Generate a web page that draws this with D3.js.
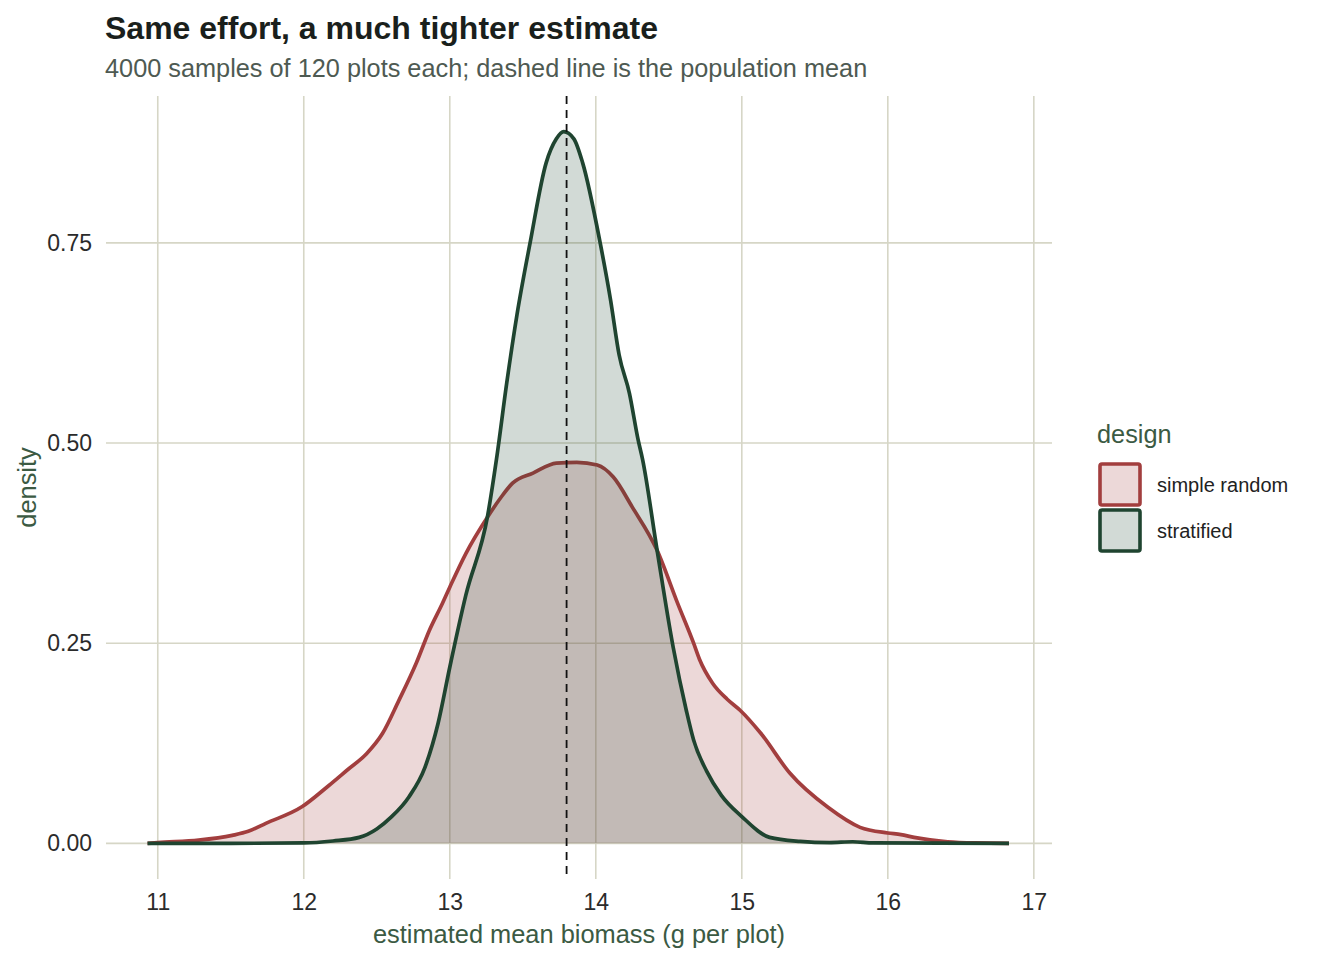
<!DOCTYPE html>
<meta charset="utf-8">
<style>
body { margin: 0; background: #fff; }
text { font-family: "Liberation Sans", Arial, sans-serif; }
.grid line { stroke: #d6d6c6; stroke-width: 1.6; }
</style>
<svg width="1344" height="960"></svg>
<script src="https://cdn.jsdelivr.net/npm/d3@7/dist/d3.min.js"></script>
<script>

// estimated densities
var designs = ["simple random", "stratified"];
var strokeColors = ["#a23e3e", "#1f4430"];

var srsX = [10.93, 11.0, 11.28, 11.51, 11.62, 11.74, 11.99, 12.17, 12.3, 12.43, 12.54, 12.65, 12.77, 12.86, 12.95, 13.0, 13.11, 13.26, 13.35, 13.43, 13.57, 13.73, 13.87, 14.01, 14.12, 14.25, 14.42, 14.56, 14.67, 14.71, 14.8, 14.9, 14.99, 15.13, 15.33, 15.59, 15.81, 16.0, 16.09, 16.18, 16.41, 16.6, 16.83];
var srsY = [0, 0.001, 0.004, 0.01, 0.015, 0.025, 0.046, 0.072, 0.092, 0.112, 0.1375, 0.178, 0.225, 0.266, 0.3, 0.32, 0.362, 0.408, 0.432, 0.45, 0.4625, 0.475, 0.476, 0.4725, 0.4575, 0.42, 0.366, 0.3, 0.25, 0.23, 0.2, 0.18, 0.166, 0.1375, 0.0875, 0.045, 0.02, 0.013, 0.011, 0.0075, 0.002, 0.0005, 0];

var strX = [10.93, 11.5, 12.0, 12.2, 12.38, 12.5, 12.6, 12.72, 12.83, 12.92, 13.0, 13.11, 13.26, 13.32, 13.39, 13.46, 13.55, 13.66, 13.73, 13.78, 13.85, 13.91, 14.03, 14.1, 14.16, 14.23, 14.29, 14.32, 14.42, 14.53, 14.62, 14.67, 14.76, 14.86, 15.0, 15.19, 15.4, 15.6, 15.76, 15.9, 16.83];
var strY = [0, 0, 0.0005, 0.003, 0.0075, 0.018, 0.033, 0.058, 0.095, 0.15, 0.22, 0.31, 0.41, 0.48, 0.575, 0.66, 0.75, 0.85, 0.88, 0.889, 0.88, 0.85, 0.75, 0.68, 0.61, 0.5625, 0.504, 0.48, 0.366, 0.245, 0.166, 0.129, 0.09, 0.06, 0.0335, 0.0075, 0.0025, 0.001, 0.002, 0.0005, 0];

var xTicks = [11, 12, 13, 14, 15, 16, 17];
var yTicks = [0, 0.25, 0.5, 0.75];
var popMean = 13.8;

var svg = d3.select("svg");

var panel = { left: 106, right: 1052, top: 96, bottom: 879 };

var x = d3.scaleLinear()
    .domain([10.6455, 17.1245])
    .range([panel.left, panel.right]);

var y = d3.scaleLinear()
    .domain([-0.0445, 0.9335])
    .range([panel.bottom, panel.top]);

// grid
var grid = svg.append("g").attr("class", "grid");
grid.selectAll(".gy").data(yTicks).enter().append("line")
    .attr("x1", panel.left).attr("x2", panel.right)
    .attr("y1", function(d) { return y(d); })
    .attr("y2", function(d) { return y(d); });
grid.selectAll(".gx").data(xTicks).enter().append("line")
    .attr("y1", panel.top).attr("y2", panel.bottom)
    .attr("x1", function(d) { return x(d); })
    .attr("x2", function(d) { return x(d); });

// axes (labels only)
var xAxis = svg.append("g")
    .attr("transform", "translate(0," + (panel.bottom + 7) + ")")
    .call(d3.axisBottom(x).tickValues(xTicks).tickSize(0).tickPadding(8).tickFormat(d3.format("d")));
var yAxis = svg.append("g")
    .attr("transform", "translate(" + (panel.left - 6) + ",0)")
    .call(d3.axisLeft(y).tickValues(yTicks).tickSize(0).tickPadding(8).tickFormat(d3.format(".2f")));
[xAxis, yAxis].forEach(function(a) {
  a.select(".domain").remove();
  a.selectAll("text")
      .attr("fill", "#2b2b2b")
      .style("font-size", "23px")
      .style("font-family", "'Liberation Sans', Arial, sans-serif");
});

// densities
var series = [
  srsX.map(function(v, i) { return [v, srsY[i]]; }),
  strX.map(function(v, i) { return [v, strY[i]]; })
];

var area = d3.area()
    .x(function(d) { return x(d[0]); })
    .y0(y(0))
    .y1(function(d) { return y(d[1]); })
    .curve(d3.curveMonotoneX);

var line = d3.line()
    .x(function(d) { return x(d[0]); })
    .y(function(d) { return y(d[1]); })
    .curve(d3.curveMonotoneX);

series.forEach(function(s, i) {
  svg.append("path")
      .datum(s)
      .attr("d", area)
      .attr("fill", strokeColors[i])
      .attr("fill-opacity", 0.2);
  svg.append("path")
      .datum(s)
      .attr("d", line)
      .attr("fill", "none")
      .attr("stroke", strokeColors[i])
      .attr("stroke-width", 3.7)
      .attr("stroke-linejoin", "round");
});

// population mean
svg.append("line")
    .attr("x1", x(popMean)).attr("x2", x(popMean))
    .attr("y1", panel.top).attr("y2", panel.bottom)
    .attr("stroke", "#111")
    .attr("stroke-width", 1.8)
    .attr("stroke-dasharray", "8,6");

// titles
svg.append("text")
    .attr("x", 105).attr("y", 39)
    .attr("fill", "#1a1f1c")
    .style("font-size", "32px")
    .style("font-weight", "bold")
    .text("Same effort, a much tighter estimate");

svg.append("text")
    .attr("x", 105).attr("y", 77)
    .attr("fill", "#4e5a52")
    .style("font-size", "25.3px")
    .text("4000 samples of 120 plots each; dashed line is the population mean");

svg.append("text")
    .attr("x", (panel.left + panel.right) / 2).attr("y", 943)
    .attr("text-anchor", "middle")
    .attr("fill", "#3b5a43")
    .style("font-size", "25.4px")
    .text("estimated mean biomass (g per plot)");

svg.append("text")
    .attr("transform", "translate(36," + ((panel.top + panel.bottom) / 2) + ") rotate(-90)")
    .attr("text-anchor", "middle")
    .attr("fill", "#3b5a43")
    .style("font-size", "25.4px")
    .text("density");

// legend
var legend = svg.append("g").attr("transform", "translate(1097,0)");
legend.append("text")
    .attr("x", 0).attr("y", 443)
    .attr("fill", "#3b5a43")
    .style("font-size", "25.3px")
    .text("design");

var keys = legend.selectAll(".key").data(designs).enter().append("g")
    .attr("transform", function(d, i) { return "translate(0," + (462 + i * 46) + ")"; });
keys.append("rect")
    .attr("x", 3).attr("y", 2)
    .attr("width", 40).attr("height", 41)
    .attr("rx", 2)
    .attr("fill", "#fff");
keys.append("rect")
    .attr("x", 3).attr("y", 2)
    .attr("width", 40).attr("height", 41)
    .attr("rx", 2)
    .attr("fill", function(d, i) { return strokeColors[i]; })
    .attr("fill-opacity", 0.2)
    .attr("stroke", function(d, i) { return strokeColors[i]; })
    .attr("stroke-width", 3.6);
keys.append("text")
    .attr("x", 60).attr("y", 30)
    .attr("fill", "#222")
    .style("font-size", "20px")
    .text(function(d) { return d; });

</script>
